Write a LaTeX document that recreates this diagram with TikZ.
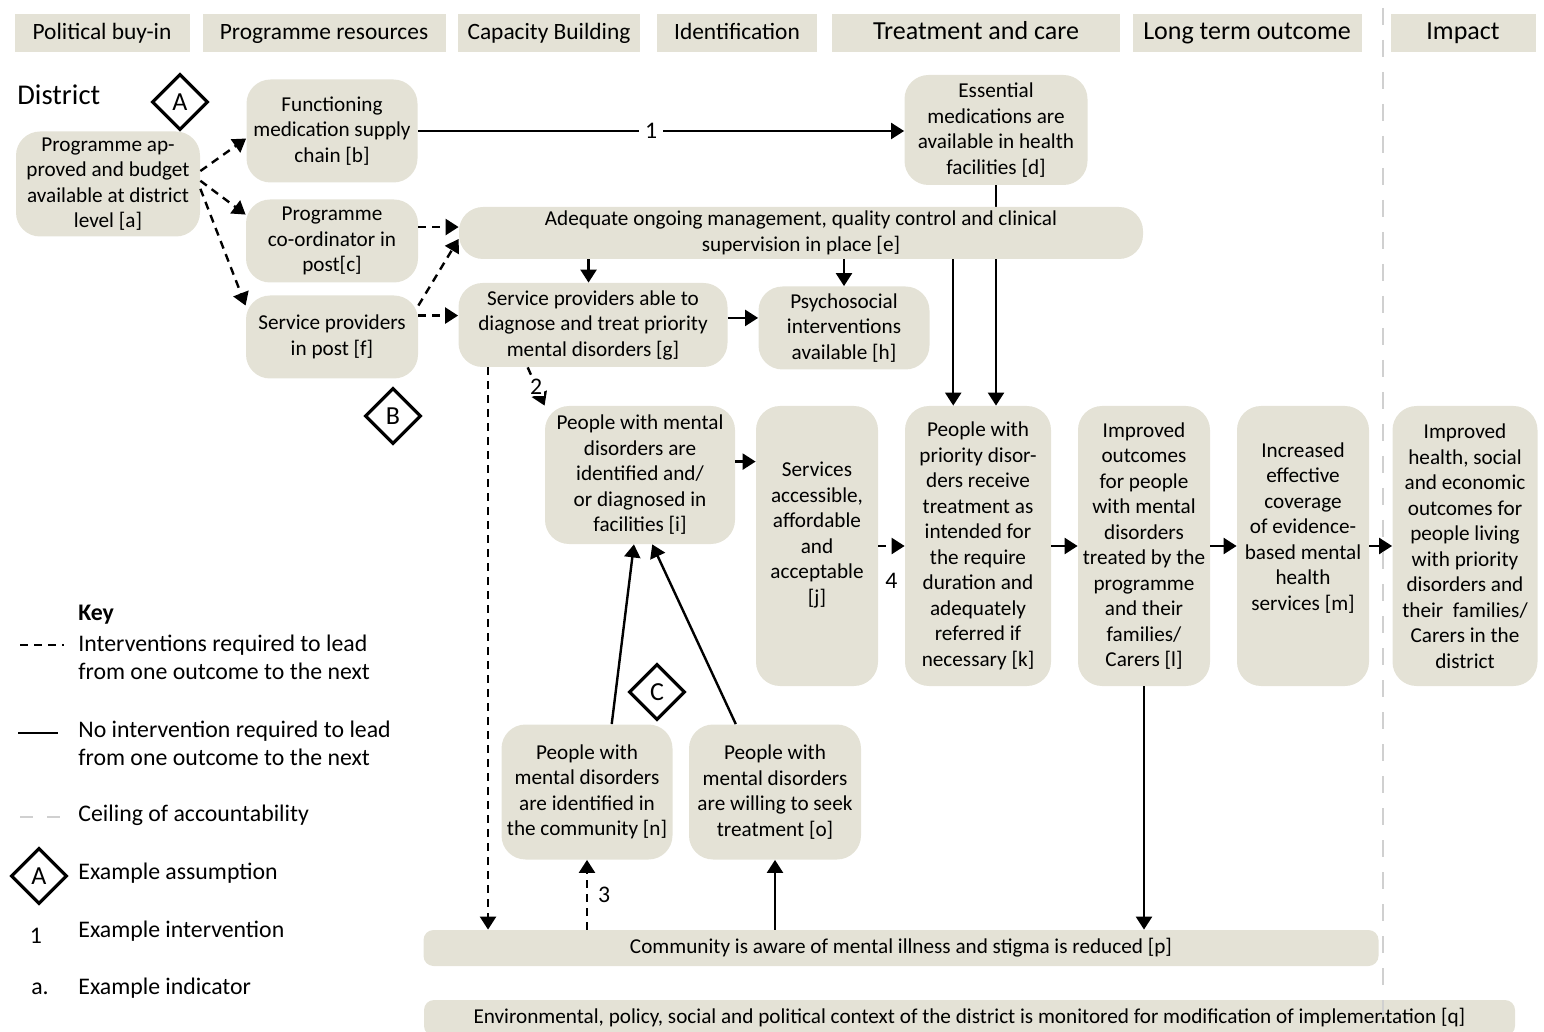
\documentclass[tikz,border=0pt]{standalone}
\usepackage{fontspec}
\setmainfont{Carlito}
\usetikzlibrary{arrows.meta,shapes.geometric,backgrounds}
\definecolor{boxfill}{RGB}{228,226,214}
\definecolor{ceilgray}{RGB}{208,208,208}
\tikzset{
  box/.style={fill=boxfill, rounded corners=12pt, align=center, inner sep=2pt,
    font=\fontsize{10.6}{12.75}\selectfont},
  barbox/.style={box, rounded corners=5pt},
  stage/.style={fill=boxfill, minimum height=19pt, inner sep=0pt,
    text height=.82em, text depth=.18em, font=\fontsize{11.7}{14}\selectfont},
  bigstage/.style={stage, font=\fontsize{13}{15}\selectfont},
  link/.style={line width=1.2pt, -{Triangle[length=6.5pt,width=8pt]}},
  ilink/.style={link, dash pattern=on 4pt off 3pt},
  ceiling/.style={line width=1.2pt, ceilgray, dash pattern=on 8.5pt off 7.5pt},
  assume/.style={diamond, draw, line width=1.6pt, minimum width=28pt,
    minimum height=28pt, inner sep=0pt, font=\fontsize{13}{13}\selectfont},
  keytext/.style={anchor=west, align=left, inner sep=1pt,
    font=\fontsize{11.9}{14}\selectfont},
  numlabel/.style={inner sep=1pt, font=\fontsize{11.9}{14}\selectfont}
}
\begin{document}
\begin{tikzpicture}[x=0.5pt, y=-0.5pt]
    \useasboundingbox (0,0) rectangle (1544,1032);
    % Draw stage headers
    \node[stage, minimum width=87.5pt] (polit) at (102,33) {Political buy-in};
    \node[stage, minimum width=121.5pt] (resour) at (324,33) {Programme resources};
    \node[stage, minimum width=91pt] (capac) at (549,33) {Capacity Building};
    \node[stage, minimum width=80pt] (ident) at (737,33) {Identification};
    \node[bigstage, minimum width=144pt] (treat) at (976,33) {Treatment and care};
    \node[bigstage, minimum width=114.5pt] (longterm) at (1247,33) {Long term outcome};
    \node[bigstage, minimum width=72.5pt] (impact) at (1463,33) {Impact};

    \node[anchor=west, inner sep=1pt, font=\fontsize{14.3}{16}\selectfont] (district) at (15,95) {District};

    % Draw outcome boxes
    \node[box, minimum width=92pt, minimum height=52.5pt] (a) at (108,184) {Programme ap-\\proved and budget\\available at district\\level [a]};
    \node[box, minimum width=85.5pt, minimum height=51.5pt] (b) at (332,131) {Functioning\\medication supply\\chain [b]};
    \node[box, minimum width=86pt, minimum height=41.5pt] (c) at (332,241) {Programme\\co-ordinator in\\post[c]};
    \node[box, minimum width=86pt, minimum height=41.5pt] (f) at (332,337) {Service providers\\in post [f]};
    \node[box, minimum width=91.5pt, minimum height=55pt] (d) at (996,130) {Essential\\medications are\\available in health\\facilities [d]};
    \node[box, minimum width=342pt, minimum height=26pt] (e) at (801,233) {Adequate ongoing management, quality control and clinical\\supervision in place [e]};
    \node[box, minimum width=134.5pt, minimum height=42pt] (g) at (593,325) {Service providers able to\\diagnose and treat priority\\mental disorders [g]};
    \node[box, minimum width=85.5pt, minimum height=41.5pt] (h) at (844,328) {Psychosocial\\interventions\\available [h]};
    \node[box, minimum width=95pt, minimum height=69pt] (i) at (640,475) {People with mental\\disorders are\\identified and/\\or diagnosed in\\facilities [i]};
    \node[box, minimum width=61pt, minimum height=140pt] (j) at (817,546) {Services\\accessible,\\affordable\\and\\acceptable\\{}[j]\\\mbox{}};
    \node[box, minimum width=73pt, minimum height=140pt] (k) at (978,546) {People with\\priority disor-\\ders receive\\treatment as\\intended for\\the require\\duration and\\adequately\\referred if\\necessary [k]};
    \node[box, minimum width=66pt, minimum height=140pt] (l) at (1144,546) {Improved\\outcomes\\for people\\with mental\\disorders\\treated by the\\programme\\and their\\families/\\Carers [l]};
    \node[box, minimum width=66pt, minimum height=140pt] (m) at (1303,546) {Increased\\effective\\coverage\\of evidence-\\based mental\\health\\services [m]\\[7pt]\mbox{}};
    \node[box, minimum width=72.5pt, minimum height=140pt] (imp) at (1465,546) {Improved\\health, social\\and economic\\outcomes for\\people living\\with priority\\disorders and\\their~ families/\\Carers in the\\district};
    \node[box, minimum width=85.5pt, minimum height=67.5pt] (n) at (587,792) {People with\\mental disorders\\are identified in\\the community [n]};
    \node[box, minimum width=86pt, minimum height=67.5pt] (o) at (775,792) {People with\\mental disorders\\are willing to seek\\treatment [o]};
    \node[barbox, minimum width=477.5pt, minimum height=18pt] (p) at (901,948) {Community is aware of mental illness and stigma is reduced [p]};
    \node[barbox, minimum width=545.5pt, minimum height=18pt] (q) at (969.5,1018) {Environmental, policy, social and political context of the district is monitored for modification of implementation [q]};

    % Draw assumptions
    \node[assume] (asmA) at (180,102) {A};
    \node[assume] (asmB) at (393,416) {B};
    \node[assume] (asmC) at (657,692) {C};

    % Draw connectors
    \draw[ilink] (a.8) -- (b.185);
    \draw[ilink] (a.2) -- (c.163);
    \draw[ilink] (a.-3) -- (f.160);
    \draw[link] (b.east) -- (b.east -| d.west) node[numlabel, pos=.48, fill=white, inner sep=3pt] (int1) {1};
    \draw[ilink] (e.179 -| c.east) -- (e.179);
    \draw[ilink] (f.20) -- (e.181);
    \draw[ilink] (g.176 -| f.east) -- (g.176);
    \draw[link] (g.96 |- e.south) -- (g.96);
    \draw[link] (h.north |- e.south) -- (h.north);
    \draw[link] (g.3) -- (g.3 -| h.west);
    \begin{scope}[on background layer]
      \draw[link] (d.south) -- (d.south |- k.north);
    \end{scope}
    \draw[link] (k.100 |- e.south) -- (k.100);
    \draw[ilink] (g.-158) -- (g.-158 |- p.north);
    \draw[ilink] (g.-147) -- (i.north west) node[numlabel, midway, fill=white] (int2) {2};
    \draw[ilink] (i.8) -- (i.8 -| j.west);
    \draw[ilink] (j.east) -- (k.west) node[numlabel, midway, below=12pt] (int4) {4};
    \draw[link] (k.east) -- (l.west);
    \draw[link] (l.east) -- (m.west);
    \draw[link] (m.east) -- (imp.west);
    \draw[link] (n.70) -- (i.-95);
    \draw[link] (o.120) -- (i.-80);
    \draw[ilink] (n.south |- p.north) -- (n.south) node[numlabel, midway, right=4pt] (int3) {3};
    \draw[link] (o.south |- p.north) -- (o.south);
    \draw[link] (l.south) -- (l.south |- p.north);

    % Draw ceiling of accountability
    \draw[ceiling] (1383,8) -- (1383,1040);

    % Draw key
    \node[keytext, font=\fontsize{11.9}{14}\bfseries] (keyhead) at (76,615) {Key};
    \node[keytext] (key1) at (76,657) {Interventions required to lead\\from one outcome to the next};
    \node[keytext] (key2) at (76,743) {No intervention required to lead\\from one outcome to the next};
    \node[keytext] (key3) at (76,815) {Ceiling of accountability};
    \node[keytext] (key4) at (76,873) {Example assumption};
    \node[keytext] (key5) at (76,931) {Example intervention};
    \node[keytext] (key6) at (76,988) {Example indicator};
    \draw[line width=1.2pt, dash pattern=on 4pt off 3pt] (20,645) -- (64,645);
    \draw[line width=1.2pt] (18,733) -- (58,733);
    \draw[ceiling, dash pattern=on 6.5pt off 7pt] (20,817) -- (62,817);
    \node[assume] (keyA) at (39,876) {A};
    \node[numlabel] (keynum) at (36,936) {1};
    \node[numlabel] (keyind) at (40,989) {a.};
\end{tikzpicture}
\end{document}
